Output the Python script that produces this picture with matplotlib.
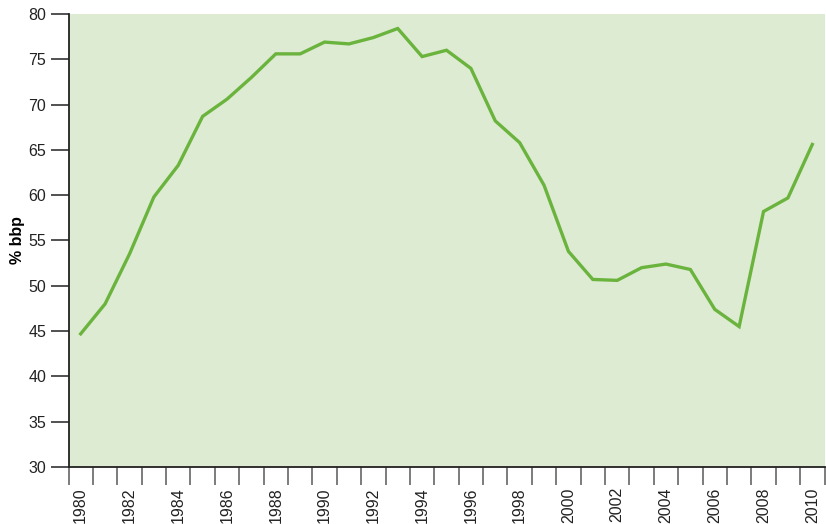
import matplotlib
matplotlib.use("Agg")
from matplotlib import pyplot as plt

years = list(range(1980, 2011))
share_bbp = [44.7, 48.0, 53.5, 59.8, 63.3, 68.7, 70.6, 73.0, 75.6, 75.6,
             76.9, 76.7, 77.4, 78.4, 75.3, 76.0, 74.0, 68.2, 65.8, 61.1,
             53.8, 50.7, 50.6, 52.0, 52.4, 51.8, 47.4, 45.5, 58.2, 59.7,
             65.6]
label_years = list(range(1980, 2011, 2))

plt.rcParams['font.family'] = ['Liberation Sans', 'DejaVu Sans']

fig = plt.figure(figsize=(8.26, 5.24), dpi=100)
ax = fig.add_axes([68.5 / 826, 57 / 524, 756 / 826, 453 / 524])
ax.set_facecolor('#deebd3')

ax.plot(years, share_bbp, color='#6ab43e', linewidth=2.4, solid_joinstyle='miter')

ax.set_xlim(years[0] - 0.5, years[-1] + 0.5)
ax.set_ylim(30, 80)
ax.set_yticks(range(30, 81, 5))
ax.tick_params(axis='y', direction='out', length=13, width=1.2, color='#333333',
               labelsize=11.5, labelcolor='#222222', pad=3)

# year boundaries as major ticks, labels centred on even years
ax.set_xticks([y - 0.5 for y in years] + [years[-1] + 0.5])
ax.set_xticklabels([])
ax.tick_params(axis='x', which='major', direction='out', length=13, width=1.2,
               color='#666666')
ax.set_xticks(label_years, minor=True)
ax.set_xticklabels([str(y) for y in label_years], minor=True, rotation=90)
ax.tick_params(axis='x', which='minor', length=0, labelsize=11.5,
               labelcolor='#222222', pad=14.5)

for side in ['top', 'right']:
    ax.spines[side].set_visible(False)
for side in ['left', 'bottom']:
    ax.spines[side].set_linewidth(1.3)
    ax.spines[side].set_color('#222222')

ax.set_ylabel('% bbp', fontsize=11.5, fontweight='bold')
ax.yaxis.set_label_coords(-43.5 / 756, 0.5)

plt.savefig('out.png', dpi=100)
